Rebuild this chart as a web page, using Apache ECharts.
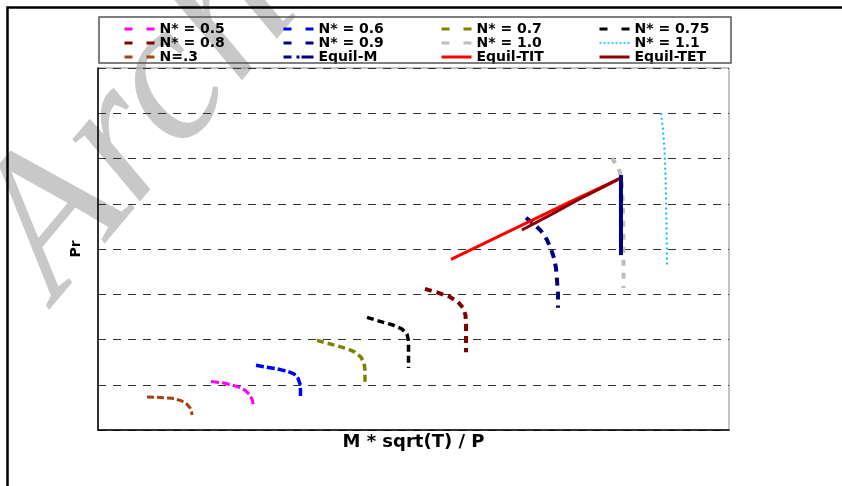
<!DOCTYPE html>
<html>
<head>
<meta charset="utf-8">
<script src="https://cdn.jsdelivr.net/npm/echarts@6/dist/echarts.min.js"></script>
<style>html,body{margin:0;padding:0;background:#fff;}#c{width:842px;height:486px;}</style>
</head>
<body>
<div id="c"></div>
<script>
// ---- data (x: M*sqrt(T)/P, arbitrary units; y: Pr, arbitrary units) ----
var n03_x = [7.77, 9.83, 11.73, 13.15, 14.10, 14.58, 14.82, 14.90];
var n03_y = [0.73, 0.72, 0.70, 0.65, 0.57, 0.49, 0.40, 0.33];
var n05_x = [17.91, 19.97, 21.87, 23.30, 24.09, 24.48, 24.64];
var n05_y = [1.07, 1.04, 0.97, 0.88, 0.77, 0.66, 0.51];
var n06_x = [25.04, 26.62, 28.37, 29.95, 31.06, 31.70, 32.01, 32.09, 32.09];
var n06_y = [1.43, 1.39, 1.35, 1.30, 1.24, 1.14, 1.02, 0.88, 0.71];
var n07_x = [34.71, 36.29, 37.88, 39.62, 40.73, 41.68, 42.16, 42.31, 42.31];
var n07_y = [1.98, 1.92, 1.86, 1.79, 1.72, 1.61, 1.48, 1.33, 1.06];
var n075_x = [42.63, 44.69, 46.75, 48.18, 48.97, 49.21, 49.21, 49.21];
var n075_y = [2.49, 2.40, 2.32, 2.23, 2.12, 1.97, 1.66, 1.37];
var n08_x = [51.82, 53.72, 55.78, 57.05, 57.84, 58.24, 58.32, 58.32, 58.32];
var n08_y = [3.12, 3.04, 2.94, 2.83, 2.70, 2.54, 2.34, 1.99, 1.72];
var n09_x = [67.83, 69.10, 70.21, 71.16, 71.79, 72.27, 72.58, 72.74, 72.90, 72.90];
var n09_y = [4.69, 4.55, 4.40, 4.20, 4.00, 3.80, 3.58, 3.32, 3.01, 2.70];
var n10_x = [81.46, 82.09, 82.73, 83.04, 83.20, 83.28, 83.28, 83.28];
var n10_y = [6.01, 5.88, 5.70, 5.41, 4.86, 4.20, 3.65, 3.14];
var n11_x = [89.22, 89.54, 89.78, 89.94, 90.02, 90.10, 90.17];
var n11_y = [7.01, 6.63, 6.19, 5.64, 5.08, 4.42, 3.65];
var eqM_x = [82.88, 82.88, 82.88, 82.88, 82.88, 82.88, 82.88];
var eqM_y = [5.59, 5.31, 5.03, 4.75, 4.47, 4.19, 3.91];
var eqTIT_x = [55.94, 60.54, 65.29, 70.05, 74.80, 79.56, 82.88];
var eqTIT_y = [3.77, 4.08, 4.40, 4.72, 5.04, 5.35, 5.57];
var eqTET_x = [67.19, 71.63, 76.39, 80.35, 82.88];
var eqTET_y = [4.42, 4.75, 5.11, 5.39, 5.57];

var names = ['N* = 0.5', 'N* = 0.6', 'N* = 0.7', 'N* = 0.75',
             'N* = 0.8', 'N* = 0.9', 'N* = 1.0', 'N* = 1.1',
             'N=.3', 'Equil-M', 'Equil-TIT', 'Equil-TET'];
var xTitle = 'M * sqrt(T) / P';
var yTitle = 'Pr';

function pairs(xs, ys) { return xs.map(function (v, i) { return [v, ys[i]]; }); }

function lineSeries(name, xs, ys, color, width, dash, extra) {
  var s = {
    type: 'line', name: name, data: pairs(xs, ys),
    symbol: 'none', smooth: false, animation: false,
    lineStyle: { color: color, width: width, type: dash },
    itemStyle: { color: color }
  };
  if (extra) for (var k in extra) s[k] = extra[k];
  return s;
}

var series = [
  lineSeries('N=.3', n03_x, n03_y, '#a3440e', 3, [7, 3]),
  lineSeries('N* = 0.5', n05_x, n05_y, '#ff00ff', 3, [8, 3]),
  lineSeries('N* = 0.6', n06_x, n06_y, '#0000ff', 3.5, [8, 3]),
  lineSeries('N* = 0.7', n07_x, n07_y, '#808000', 3.5, [7, 4]),
  lineSeries('N* = 0.75', n075_x, n075_y, '#000000', 3.5, [7, 4]),
  lineSeries('N* = 0.8', n08_x, n08_y, '#800000', 4, [7, 5]),
  lineSeries('N* = 0.9', n09_x, n09_y, '#000080', 4, [8, 6]),
  lineSeries('N* = 1.0', n10_x, n10_y, '#bebebe', 4, [6, 7]),
  lineSeries('N* = 1.1', n11_x, n11_y, '#00bfff', 2, [2, 3]),
  lineSeries('Equil-TIT', eqTIT_x, eqTIT_y, '#ff0000', 3, 'solid'),
  lineSeries('Equil-TET', eqTET_x, eqTET_y, '#8b0000', 3, 'solid'),
  lineSeries('Equil-M', eqM_x, eqM_y, '#000080', 4, 'solid', { symbol: 'emptyRect', symbolSize: 2, showSymbol: true })
];

var legendDash = [8, 14];
function legItem(n) {
  var it = { name: n, itemStyle: { opacity: 0 } };
  if (n === 'N* = 1.1') it.lineStyle = { type: [2, 2], width: 1.5 };
  else if (n === 'Equil-TIT' || n === 'Equil-TET') it.lineStyle = { type: 'solid', width: 3 };
  else if (n === 'Equil-M') it.lineStyle = { type: [8, 5, 3, 2, 12], width: 3 };
  else it.lineStyle = { type: legendDash, width: 3 };
  return it;
}
var legendCols = [123, 282, 440, 598];
var legends = legendCols.map(function (lx, c) {
  return {
    orient: 'vertical', left: lx, top: 22, padding: 0,
    itemWidth: 30, itemHeight: 13, itemGap: 0, selectedMode: false,
    textStyle: { fontFamily: 'DejaVu Sans', fontWeight: 'bold', fontSize: 14, color: '#000', lineHeight: 13 },
    data: [names[c], names[c + 4], names[c + 8]].map(legItem)
  };
});

var chart = echarts.init(document.getElementById('c'), null, { renderer: 'canvas' });
chart.setOption({
  backgroundColor: '#fff',
  animation: false,
  grid: { left: 98, top: 68, right: 113, bottom: 56, show: true, borderColor: '#888', borderWidth: 1 },
  legend: legends,
  xAxis: {
    type: 'value', min: 0, max: 100,
    name: xTitle, nameLocation: 'middle', nameGap: 3,
    nameTextStyle: { fontFamily: 'DejaVu Sans', fontWeight: 'bold', fontSize: 18, color: '#000', verticalAlign: 'top' },
    axisLine: { show: true, lineStyle: { color: '#000', width: 1.5 } },
    axisTick: { show: false }, axisLabel: { show: false }, splitLine: { show: false }
  },
  yAxis: {
    type: 'value', min: 0, max: 8, interval: 1,
    name: yTitle, nameLocation: 'middle', nameGap: 15,
    nameTextStyle: { fontFamily: 'DejaVu Sans', fontWeight: 'bold', fontSize: 14, color: '#000' },
    axisLine: { show: true, lineStyle: { color: '#000', width: 1.5 } },
    axisTick: { show: false }, axisLabel: { show: false },
    splitLine: { show: true, lineStyle: { color: '#333', width: 1, type: [8, 7] } }
  },
  graphic: [
    { type: 'text', z: -10, x: 62, y: 306, rotation: 50 * Math.PI / 180,
      style: { text: 'Archive of SID', x: 0, y: 40, fill: '#c8c8c8', font: 'italic 200px "Liberation Serif"', textAlign: 'left', textVerticalAlign: 'bottom' } },
    { type: 'rect', z: 5, shape: { x: 99, y: 17, width: 632, height: 46 }, style: { fill: 'none', stroke: '#555', lineWidth: 1.5 } },
    { type: 'rect', z: 5, shape: { x: 7.5, y: 7.5, width: 900, height: 600 }, style: { fill: 'none', stroke: '#000', lineWidth: 2.5 } }
  ],
  series: series
});
</script>
</body>
</html>
